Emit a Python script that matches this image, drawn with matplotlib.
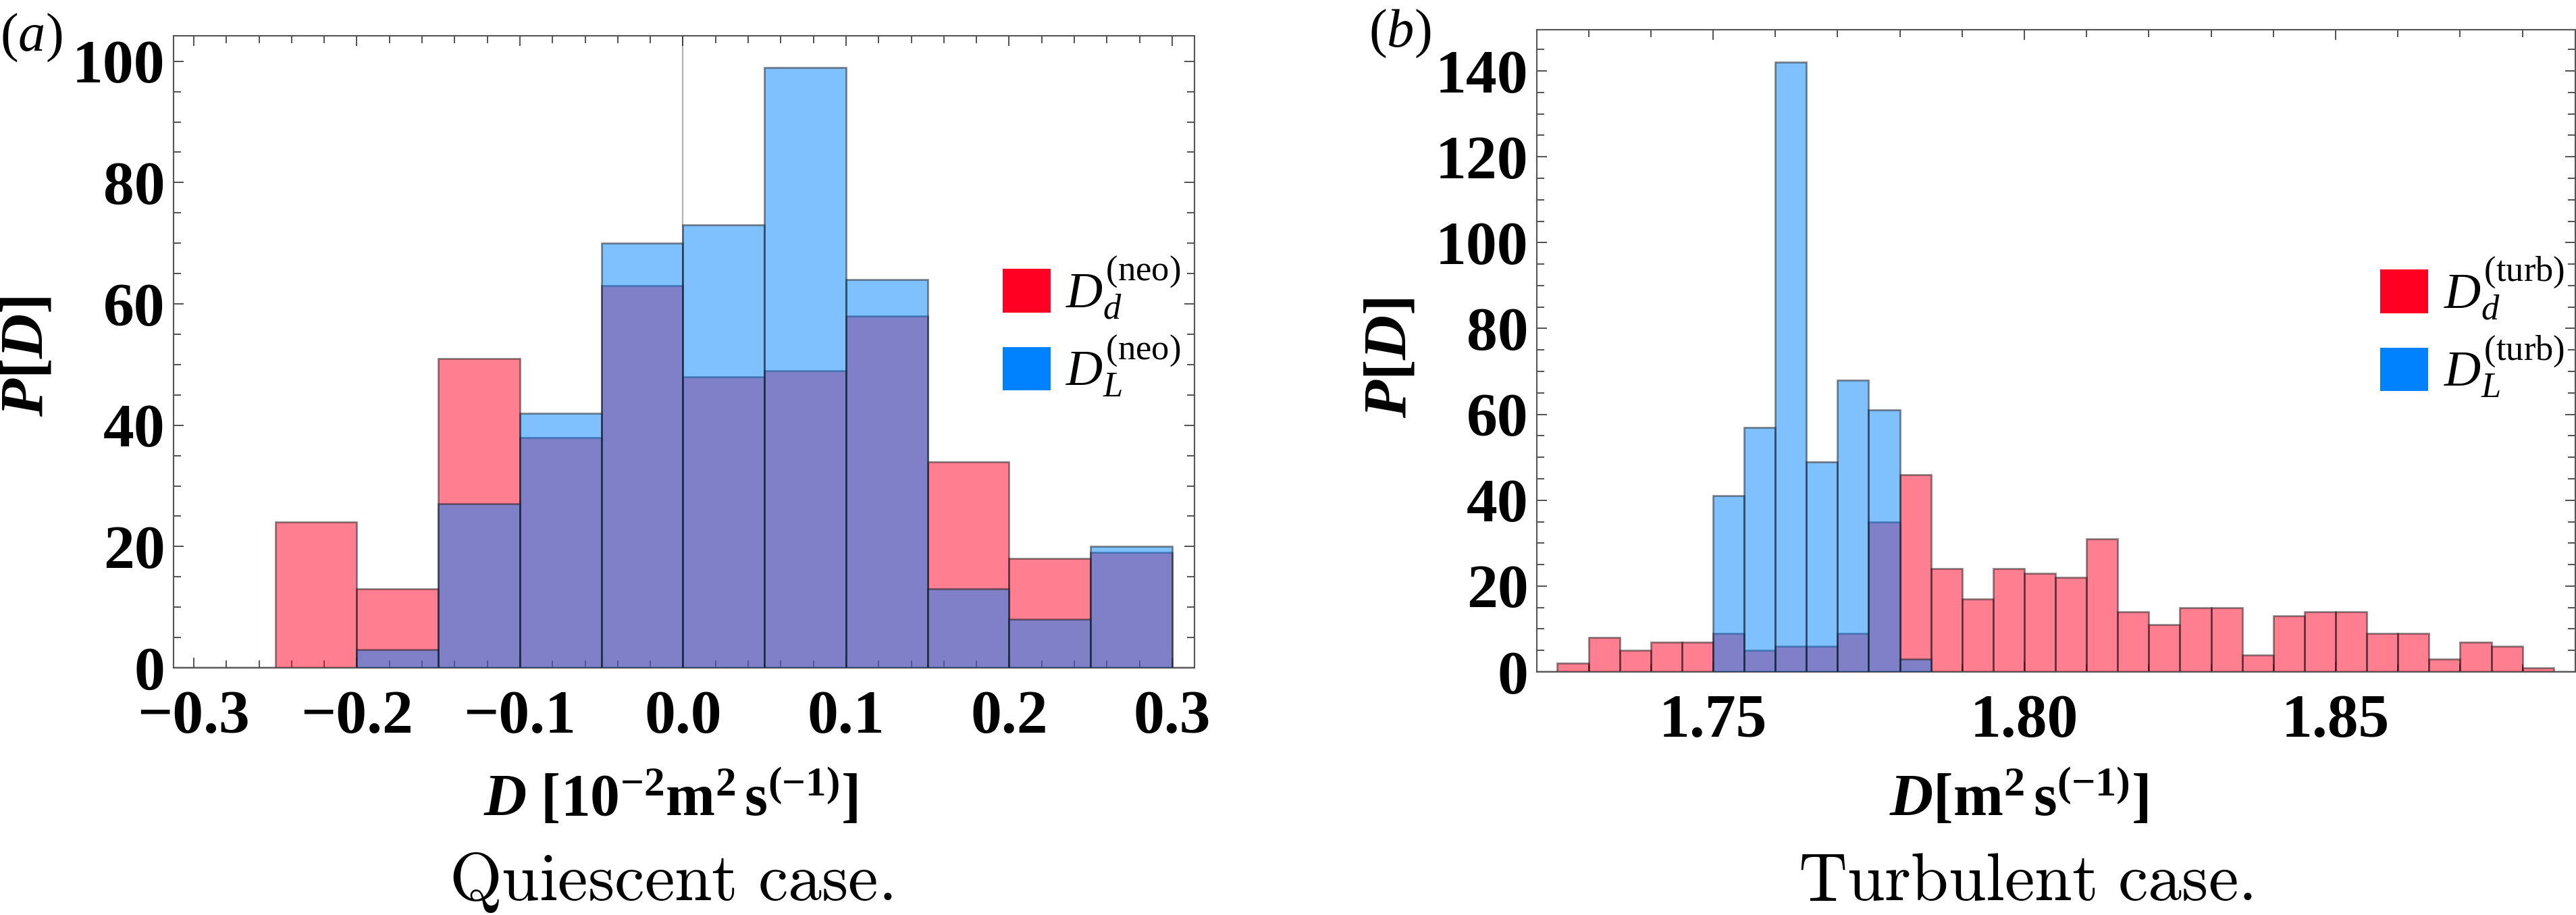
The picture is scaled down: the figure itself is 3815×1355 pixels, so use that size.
import numpy as np
import matplotlib
matplotlib.use('Agg')
import matplotlib.pyplot as plt
from matplotlib.patches import Patch
from matplotlib.ticker import MultipleLocator, FuncFormatter

# (a) quiescent case, bins of width 0.05 starting at -0.25
neo_lo = [-0.25, -0.20, -0.15, -0.10, -0.05, 0.00, 0.05, 0.10, 0.15, 0.20, 0.25]
neo_d = [24, 13, 51, 38, 63, 48, 49, 58, 34, 18, 19]
neo_L = [0, 3, 27, 42, 70, 73, 99, 64, 13, 8, 20]
neo_w = 0.05

# (b) turbulent case, bins of width 0.005 starting at 1.725
turb_lo = np.round(1.725 + 0.005 * np.arange(32), 3)
turb_d = [2, 8, 5, 7, 7, 9, 5, 6, 6, 9, 35, 46, 24, 17, 24, 23,
          22, 31, 14, 11, 15, 15, 4, 13, 14, 14, 9, 9, 3, 7, 6, 1]
turb_L = [0, 0, 0, 0, 0, 41, 57, 142, 49, 68, 61, 3, 0, 0, 0, 0,
          0, 0, 0, 0, 0, 0, 0, 0, 0, 0, 0, 0, 0, 0, 0, 0]
turb_w = 0.005

RED = '#FF0022'
BLUE = '#0082FF'
EDGE = (0.1, 0.1, 0.1, 0.75)

plt.rcParams['font.family'] = 'Liberation Serif'
plt.rcParams['mathtext.fontset'] = 'custom'
plt.rcParams['mathtext.rm'] = 'Liberation Serif'
plt.rcParams['mathtext.it'] = 'Liberation Serif:italic'
plt.rcParams['mathtext.bf'] = 'Liberation Serif:bold'
plt.rcParams['mathtext.bfit'] = 'Liberation Serif:italic:bold'

W, H = 3815, 1355
fig = plt.figure(figsize=(W / 100, H / 100), dpi=100)


def px_axes(x0, y0, x1, y1):
    return fig.add_axes([x0 / W, 1 - y1 / H, (x1 - x0) / W, (y1 - y0) / H])


def draw_hist(ax, lo, w, red, blue):
    lo = np.asarray(lo)
    red = np.asarray(red)
    blue = np.asarray(blue)
    m = red > 0
    ax.bar(lo[m], red[m], width=w, align='edge', color=RED, alpha=0.5,
           edgecolor=EDGE, linewidth=2, zorder=2)
    m = blue > 0
    ax.bar(lo[m], blue[m], width=w, align='edge', color=BLUE, alpha=0.5,
           edgecolor=EDGE, linewidth=2, zorder=3)


def style(ax):
    for s in ax.spines.values():
        s.set_color('#555555')
        s.set_linewidth(1.5)
    ax.tick_params(which='both', direction='in', top=True, right=True,
                   color='#222222', width=1.1)
    ax.tick_params(which='major', length=11, labelsize=66)
    ax.tick_params(which='minor', length=8)
    ax.tick_params(axis='y', pad=9)
    ax.tick_params(axis='x', pad=24)
    for lab in ax.get_xticklabels() + ax.get_yticklabels():
        lab.set_fontweight('bold')
    ax.axhline(0, color='#c8c8c8', lw=3, zorder=1)


def fmt(n):
    return FuncFormatter(lambda v, p: f'{v:.{n}f}'.replace('-', '\u2212')
                         if abs(v) > 1e-9 else f'{0:.{n}f}')


# ---- panel (a)
ax1 = px_axes(257, 53, 1769, 989)
draw_hist(ax1, neo_lo, neo_w, neo_d, neo_L)
ax1.axvline(0, color='#b0b0b0', lw=1.5, zorder=1)
ax1.set_xlim(-0.3124, 0.3137)
ax1.set_ylim(0, 104.2)
ax1.xaxis.set_major_locator(MultipleLocator(0.1))
ax1.xaxis.set_minor_locator(MultipleLocator(0.02))
ax1.yaxis.set_major_locator(MultipleLocator(20))
ax1.yaxis.set_minor_locator(MultipleLocator(5))
ax1.xaxis.set_major_formatter(fmt(1))
ax1.yaxis.set_major_formatter(FuncFormatter(lambda v, p: f'{v:.0f}'))
style(ax1)
ax1.legend([Patch(facecolor=RED), Patch(facecolor=BLUE)],
           [r'$D_d^{(\mathrm{neo})}$', r'$D_L^{(\mathrm{neo})}$'],
           loc='center left', bbox_to_anchor=(0.812, 0.539), frameon=False,
           fontsize=54, handlelength=0.95, handleheight=0.95,
           handletextpad=0.3, labelspacing=0.25, borderpad=0, borderaxespad=0)

# ---- panel (b)
ax2 = px_axes(2276, 44, 3814, 995)
draw_hist(ax2, turb_lo, turb_w, turb_d, turb_L)
ax2.set_xlim(1.7217, 1.8885)
ax2.set_ylim(0, 149.6)
ax2.xaxis.set_major_locator(MultipleLocator(0.05))
ax2.xaxis.set_minor_locator(MultipleLocator(0.01))
ax2.yaxis.set_major_locator(MultipleLocator(20))
ax2.yaxis.set_minor_locator(MultipleLocator(5))
ax2.xaxis.set_major_formatter(fmt(2))
ax2.yaxis.set_major_formatter(FuncFormatter(lambda v, p: f'{v:.0f}'))
style(ax2)
ax2.legend([Patch(facecolor=RED), Patch(facecolor=BLUE)],
           [r'$D_d^{(\mathrm{turb})}$', r'$D_L^{(\mathrm{turb})}$'],
           loc='center left', bbox_to_anchor=(0.812, 0.536), frameon=False,
           fontsize=54, handlelength=0.95, handleheight=0.95,
           handletextpad=0.3, labelspacing=0.25, borderpad=0, borderaxespad=0)

# ---- labels
ylab = r'$\mathbfit{P}\mathbf{[}\mathbfit{D}\mathbf{]}$'
fig.text(41 / W, 1 - 528 / H, ylab, rotation=90, ha='center', va='center',
         fontsize=66)
fig.text(2060 / W, 1 - 530 / H, ylab, rotation=90, ha='center', va='center',
         fontsize=66)

fig.text(993 / W, 1 - 1208 / H,
         r'$\mathbfit{D}\ \mathbf{[10^{-2}m^{2}\,s^{(-1)}]}$',
         ha='center', va='baseline', fontsize=63)
fig.text(2990 / W, 1 - 1208 / H,
         r'$\mathbfit{D}\mathbf{[m^{2}\,s^{(-1)}]}$',
         ha='center', va='baseline', fontsize=64)

fig.text(993 / W, 1 - 1333 / H, r'$\mathrm{Quiescent\ case.}$',
         math_fontfamily='cm', ha='center', va='baseline', fontsize=72)
fig.text(3000 / W, 1 - 1333 / H, r'$\mathrm{Turbulent\ case.}$',
         math_fontfamily='cm', ha='center', va='baseline', fontsize=72)

fig.text(0 / W, 1 - 18 / H, r'$(a)$', ha='left', va='top', fontsize=58)
fig.text(2027 / W, 1 - 12 / H, r'$(b)$', ha='left', va='top', fontsize=58)

fig.savefig('out.png', dpi=100)
